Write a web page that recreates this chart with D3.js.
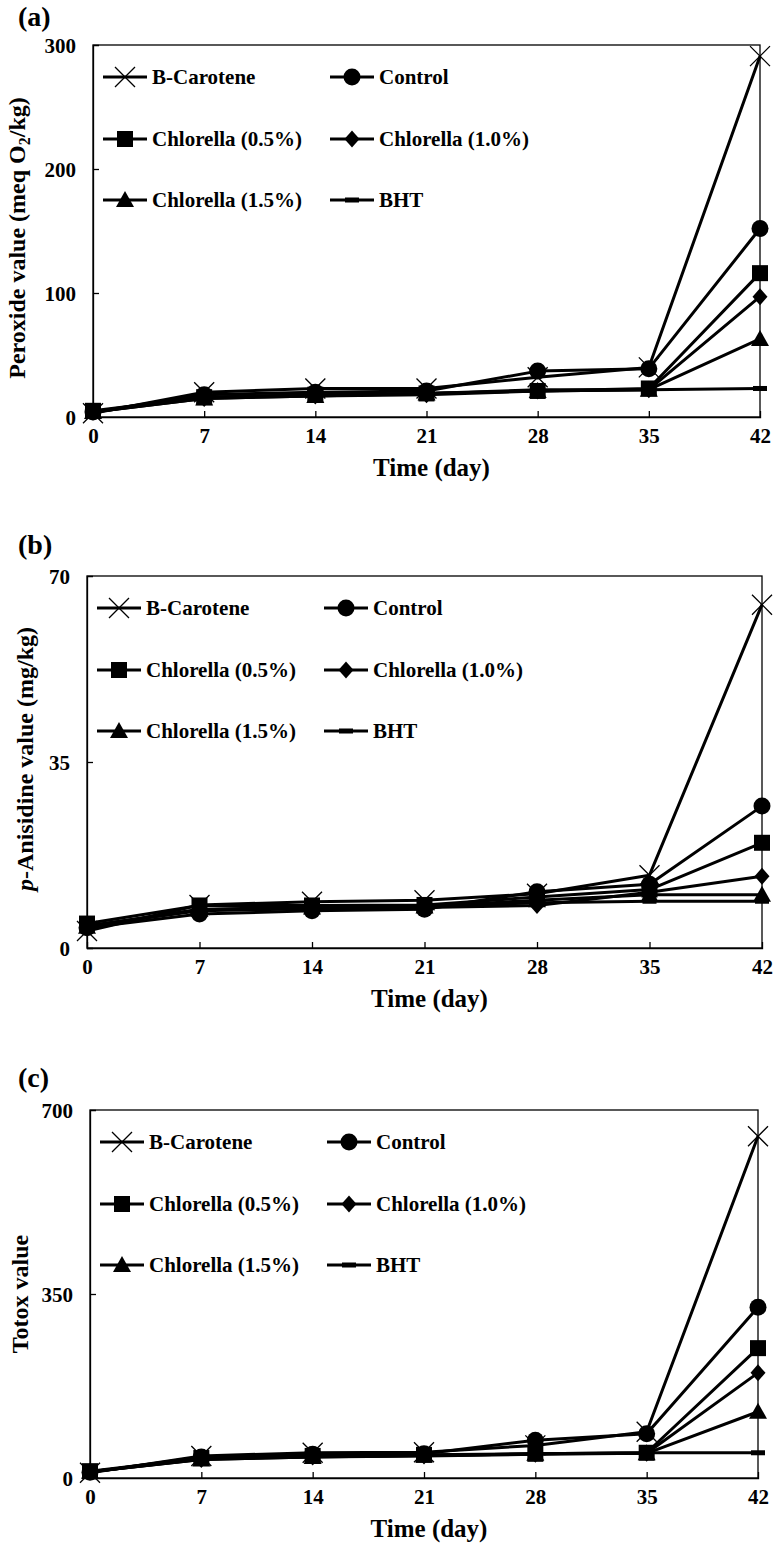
<!DOCTYPE html>
<html><head><meta charset="utf-8">
<script src="https://cdn.jsdelivr.net/npm/d3@7"></script>
<style>
body{margin:0;background:#fff}
svg text{font-family:"Liberation Serif","Times New Roman",serif;font-weight:bold;fill:#000}
</style>
</head><body><svg id="chart" width="774" height="1553"></svg>
<script>
// ---------- data ----------
const days = [0, 7, 14, 21, 28, 35, 42];
const xTickValues = [0, 7, 14, 21, 28, 35, 42];
const seriesNames = ["B-Carotene", "Control", "Chlorella (0.5%)", "Chlorella (1.0%)", "Chlorella (1.5%)", "BHT"];
const seriesMarkers = ["cross", "circle", "square", "diamond", "triangle", "dash"];

const pvTicks = [0, 100, 200, 300];
const pvBCarotene = [3, 20, 23, 23, 32, 40, 291];
const pvControl   = [4, 18, 20, 21, 37, 39, 152];
const pvChl05     = [5, 16, 18, 19, 21, 23, 116];
const pvChl10     = [4, 15, 17, 18, 21, 22, 97];
const pvChl15     = [4, 15, 17, 19, 21, 22, 63];
const pvBHT       = [4, 16, 18, 19, 22, 22, 23];

const avTicks = [0, 35, 70];
const avBCarotene = [3.2, 8.1, 8.7, 9.0, 10.2, 13.7, 64.6];
const avControl   = [3.8, 6.4, 7.0, 7.3, 10.6, 12.0, 26.7];
const avChl05     = [4.6, 8.0, 8.0, 8.1, 9.6, 11.0, 19.8];
const avChl10     = [4.2, 7.0, 7.4, 7.6, 8.0, 10.5, 13.5];
const avChl15     = [4.0, 7.2, 7.6, 7.8, 9.0, 10.0, 10.0];
const avBHT       = [4.1, 7.3, 7.7, 7.9, 8.5, 8.8, 8.8];

const totoxTicks = [0, 350, 700];
const totoxBCarotene = [10, 42, 48, 49, 62, 88, 650];
const totoxControl   = [11, 40, 45, 46, 72, 84, 325];
const totoxChl05     = [13, 38, 42, 44, 46, 48, 247];
const totoxChl10     = [12, 35, 40, 42, 45, 47, 200];
const totoxChl15     = [12, 35, 40, 43, 46, 47, 126];
const totoxBHT       = [12, 36, 41, 43, 46, 48, 48];

// ---------- layout ----------
const panels = [
  {label: "(a)", labelY: 26, left: 93, right: 760, top: 45, bottom: 417, yMax: 300, ticks: pvTicks, titleX: 25, titleDY: 7,
   title: "pv", values: [pvBCarotene, pvControl, pvChl05, pvChl10, pvChl15, pvBHT]},
  {label: "(b)", labelY: 554, left: 87, right: 762, top: 576, bottom: 948, yMax: 70, ticks: avTicks, titleX: 33, titleDY: -3,
   title: "av", values: [avBCarotene, avControl, avChl05, avChl10, avChl15, avBHT]},
  {label: "(c)", labelY: 1087, left: 90, right: 758, top: 1110, bottom: 1478, yMax: 700, ticks: totoxTicks, titleX: 28, titleDY: 0,
   title: "totox", values: [totoxBCarotene, totoxControl, totoxChl05, totoxChl10, totoxChl15, totoxBHT]}
];

const svg = d3.select("#chart");

function marker(g, type, x, y) {
  if (type === "cross") {
    g.append("path").attr("d", `M${x-10},${y-10}L${x+10},${y+10}M${x-10},${y+10}L${x+10},${y-10}`)
      .attr("stroke", "#000").attr("stroke-width", 1.3).attr("fill", "none");
  } else if (type === "circle") {
    g.append("circle").attr("cx", x).attr("cy", y).attr("r", 8.5).attr("fill", "#000");
  } else if (type === "square") {
    g.append("rect").attr("x", x - 8).attr("y", y - 8).attr("width", 16).attr("height", 16).attr("fill", "#000");
  } else if (type === "diamond") {
    g.append("path").attr("d", `M${x},${y-8.5}L${x+7.5},${y}L${x},${y+8.5}L${x-7.5},${y}Z`).attr("fill", "#000");
  } else if (type === "triangle") {
    g.append("path").attr("d", `M${x},${y-9}L${x+9},${y+7}L${x-9},${y+7}Z`).attr("fill", "#000");
  } else if (type === "dash") {
    g.append("rect").attr("x", x - 7).attr("y", y - 2.5).attr("width", 14).attr("height", 5).attr("fill", "#000");
  }
}

panels.forEach(p => {
  const g = svg.append("g");
  const x = d3.scaleLinear().domain([0, 42]).range([p.left, p.right]);
  const y = d3.scaleLinear().domain([0, p.yMax]).range([p.bottom, p.top]);

  // frame
  g.append("rect").attr("x", p.left).attr("y", p.top).attr("width", p.right - p.left).attr("height", p.bottom - p.top)
    .attr("fill", "none").attr("stroke", "#000").attr("stroke-width", 1.3);

  // axes (ticks inside)
  const xAxis = d3.axisBottom(x).tickValues(xTickValues).tickSize(-6).tickPadding(11).tickFormat(d3.format("d"));
  const gx = g.append("g").attr("transform", `translate(0,${p.bottom})`).call(xAxis);
  const yAxis = d3.axisLeft(y).tickValues(p.ticks).tickSize(-6).tickPadding(17).tickFormat(d3.format("d"));
  const gy = g.append("g").attr("transform", `translate(${p.left},0)`).call(yAxis);
  [gx, gy].forEach(a => {
    a.attr("font-family", null).attr("font-size", null);
    a.select(".domain").attr("stroke", "#000").attr("stroke-width", 1.3);
    a.selectAll(".tick line").attr("stroke", "#000").attr("stroke-width", 1.3);
    a.selectAll(".tick text").attr("font-size", 21).attr("fill", "#000");
  });
  gx.selectAll(".tick text").attr("dy", "0.71em");
  gy.selectAll(".tick text").attr("dy", "0.35em");
  gx.selectAll(".tick line").filter(d => d === 0 || d === 42).remove();
  gy.selectAll(".tick line").filter(d => d === 0 || d === p.yMax).remove();

  // x title
  g.append("text").attr("x", (p.left + p.right) / 2 + 5).attr("y", p.bottom + 59).attr("text-anchor", "middle")
    .attr("font-size", 25).text("Time (day)");

  // y title
  const yt = g.append("text").attr("transform", `translate(${p.titleX},${(p.top + p.bottom) / 2 + p.titleDY}) rotate(-90)`)
    .attr("text-anchor", "middle").attr("font-size", 24);
  if (p.title === "pv") {
    yt.append("tspan").text("Peroxide value (meq O");
    yt.append("tspan").attr("font-size", 16).attr("dy", 5).text("2");
    yt.append("tspan").attr("dy", -5).text("/kg)");
  } else if (p.title === "av") {
    yt.append("tspan").attr("font-style", "italic").text("p");
    yt.append("tspan").text("-Anisidine value (mg/kg)");
  } else {
    yt.text("Totox value");
  }

  // panel label
  g.append("text").attr("x", 18).attr("y", p.labelY).attr("font-size", 28).text(p.label);

  // series
  const line = d3.line().x((d, i) => x(days[i])).y(d => y(d));
  p.values.forEach(vals => {
    g.append("path").datum(vals).attr("d", line).attr("fill", "none").attr("stroke", "#000")
      .attr("stroke-width", 3).attr("stroke-linejoin", "round");
  });
  p.values.forEach((vals, si) => {
    vals.forEach((v, i) => marker(g, seriesMarkers[si], x(days[i]), y(v)));
  });

  // legend
  const colX = [p.left + 10, p.left + 237];
  const rowY = [p.top + 32, p.top + 94, p.top + 155];
  seriesNames.forEach((name, i) => {
    const lx = colX[i % 2], ly = rowY[Math.floor(i / 2)];
    g.append("line").attr("x1", lx).attr("x2", lx + 44).attr("y1", ly).attr("y2", ly)
      .attr("stroke", "#000").attr("stroke-width", 3);
    marker(g, seriesMarkers[i], lx + 22, ly);
    g.append("text").attr("x", lx + 49).attr("y", ly).attr("dy", "0.35em").attr("font-size", 21).text(name);
  });
});
</script>
</body></html>
